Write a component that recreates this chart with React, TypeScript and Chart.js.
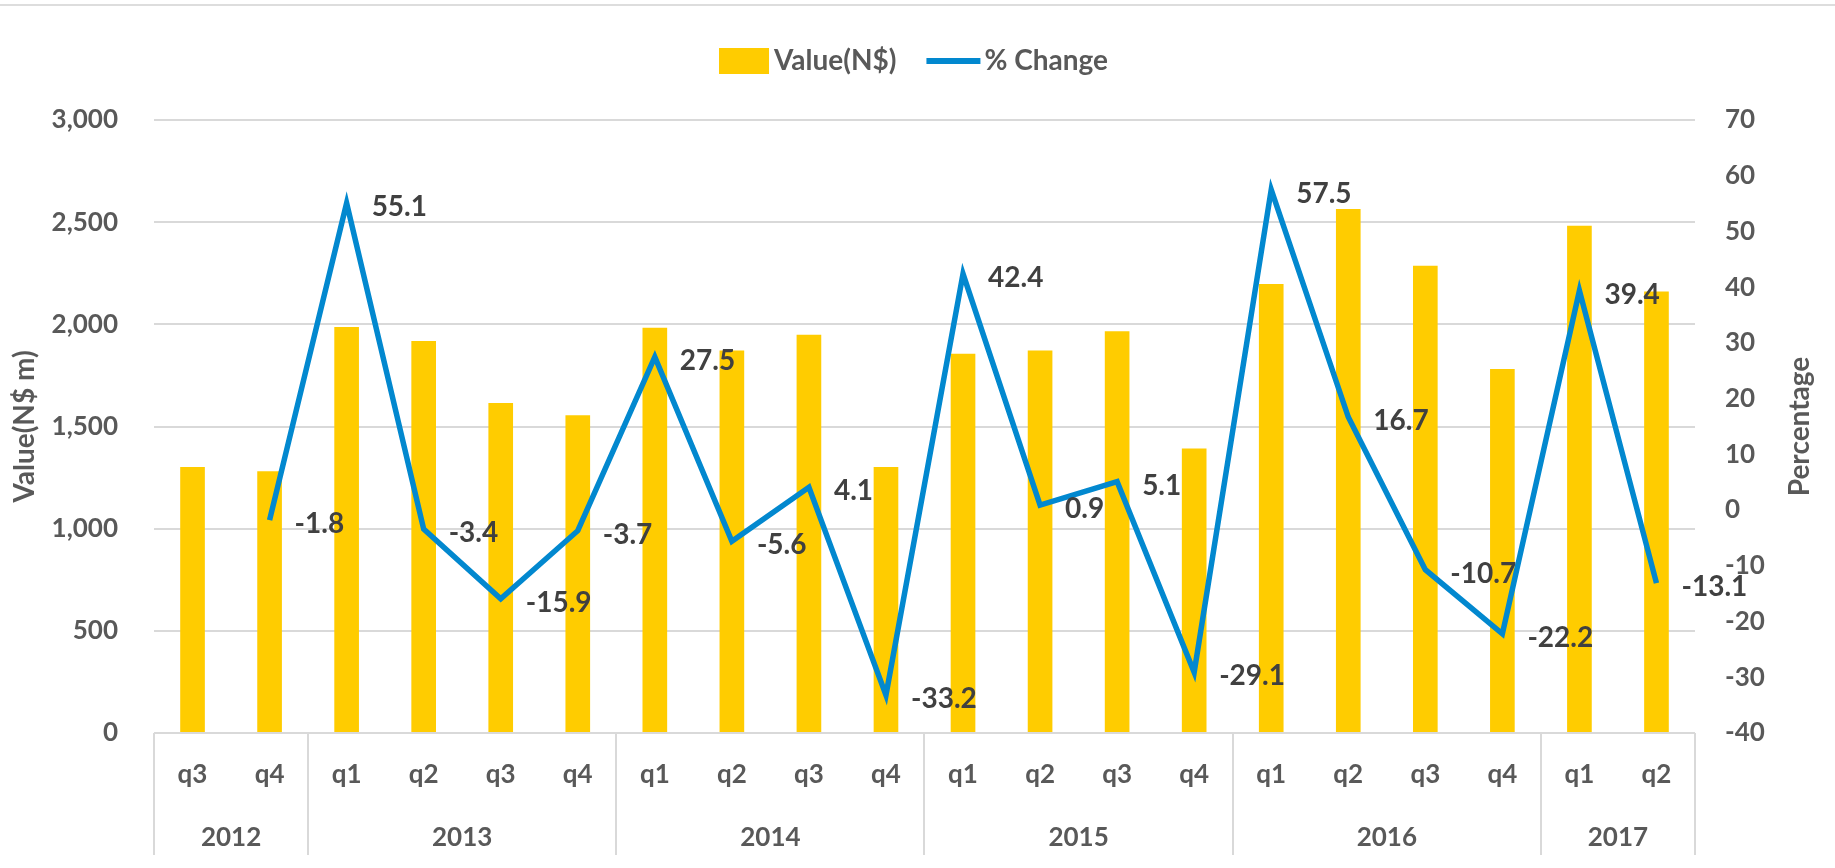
import React, { useEffect, useRef } from "react";
import { Chart, registerables } from "chart.js";

Chart.register(...registerables);

// ---------------- data ----------------
const quarters = ["q3", "q4", "q1", "q2", "q3", "q4", "q1", "q2", "q3", "q4", "q1", "q2", "q3", "q4", "q1", "q2", "q3", "q4", "q1", "q2"];
const years = ["2012", "2012", "2013", "2013", "2013", "2013", "2014", "2014", "2014", "2014", "2015", "2015", "2015", "2015", "2016", "2016", "2016", "2016", "2017", "2017"];
const valueNS = [1302, 1281, 1987, 1919, 1615, 1555, 1983, 1872, 1949, 1302, 1856, 1872, 1966, 1392, 2197, 2565, 2287, 1782, 2482, 2161];
const pctChange: (number | null)[] = [null, -1.8, 55.1, -3.4, -15.9, -3.7, 27.5, -5.6, 4.1, -33.2, 42.4, 0.9, 5.1, -29.1, 57.5, 16.7, -10.7, -22.2, 39.4, -13.1];
const seriesNames = ["Value(N$)", "% Change"];
const leftAxisTitle = "Value(N$ m)";
const rightAxisTitle = "Percentage";

const FONT = "Lato, 'Open Sans', 'DejaVu Sans', sans-serif";
const AXIS_COLOR = "#595959";
const LABEL_COLOR = "#404040";
const GRID = "#D9D9D9";
const BAR_COLOR = "#FFCC00";
const LINE_COLOR = "#0288CF";

export default function App() {
  const ref = useRef<HTMLCanvasElement>(null);

  useEffect(() => {
    const canvas = ref.current!;

    const decorPlugin = {
      id: "decor",
      afterDraw(chart: any) {
        const { ctx, scales, chartArea } = chart;
        const x = scales.x;
        ctx.save();
        // top frame line
        ctx.fillStyle = "#DDDDDD";
        ctx.fillRect(0, 4, chart.width, 2);

        // year groups
        const groups: [number, number][] = [];
        let start = 0;
        for (let i = 1; i <= years.length; i++) {
          if (i === years.length || years[i] !== years[start]) {
            groups.push([start, i - 1]);
            start = i;
          }
        }
        const half = (x.getPixelForValue(1) - x.getPixelForValue(0)) / 2;
        const edges = [x.getPixelForValue(0) - half, ...groups.map((g) => x.getPixelForValue(g[1]) + half)];
        ctx.strokeStyle = GRID;
        ctx.lineWidth = 2;
        edges.forEach((px) => {
          ctx.beginPath();
          ctx.moveTo(Math.round(px), chartArea.bottom);
          ctx.lineTo(Math.round(px), 855);
          ctx.stroke();
        });
        ctx.fillStyle = AXIS_COLOR;
        ctx.font = `bold 26px ${FONT}`;
        ctx.textAlign = "center";
        ctx.textBaseline = "middle";
        groups.forEach((g) => {
          const cx = (x.getPixelForValue(g[0]) + x.getPixelForValue(g[1])) / 2;
          ctx.fillText(years[g[0]], cx, 838);
        });

        // right axis title (reads bottom-to-top)
        ctx.save();
        ctx.font = `bold 28px ${FONT}`;
        ctx.translate(1800, (chartArea.top + chartArea.bottom) / 2);
        ctx.rotate(-Math.PI / 2);
        ctx.textAlign = "center";
        ctx.textBaseline = "middle";
        ctx.fillText(rightAxisTitle, 0, 0);
        ctx.restore();

        // legend
        ctx.font = `bold 28px ${FONT}`;
        const w1 = ctx.measureText(seriesNames[0]).width;
        const w2 = ctx.measureText(seriesNames[1]).width;
        const total = 50 + 5 + w1 + 30 + 54 + 4 + w2;
        let lx = chart.width / 2 - total / 2 - 4;
        const ly = 61;
        ctx.fillStyle = BAR_COLOR;
        ctx.fillRect(lx, ly - 13, 50, 26);
        lx += 55;
        ctx.fillStyle = AXIS_COLOR;
        ctx.textAlign = "left";
        ctx.fillText(seriesNames[0], lx, ly);
        lx += w1 + 30;
        ctx.strokeStyle = LINE_COLOR;
        ctx.lineWidth = 6;
        ctx.beginPath();
        ctx.moveTo(lx, ly);
        ctx.lineTo(lx + 54, ly);
        ctx.stroke();
        lx += 58;
        ctx.fillText(seriesNames[1], lx, ly);
        ctx.restore();
      },
      afterDatasetsDraw(chart: any) {
        const { ctx } = chart;
        const meta = chart.getDatasetMeta(0);
        ctx.save();
        ctx.font = `bold 28px ${FONT}`;
        ctx.fillStyle = LABEL_COLOR;
        ctx.textAlign = "left";
        ctx.textBaseline = "middle";
        meta.data.forEach((pt: any, i: number) => {
          const v = pctChange[i];
          if (v === null || v === undefined) return;
          ctx.fillText(v.toFixed(1), pt.x + 25, pt.y + 4);
        });
        ctx.restore();
      },
    };

    const chart = new Chart(canvas, {
      data: {
        labels: quarters,
        datasets: [
          {
            type: "line",
            label: seriesNames[1],
            data: pctChange,
            yAxisID: "y1",
            borderColor: LINE_COLOR,
            backgroundColor: LINE_COLOR,
            borderWidth: 5.5,
            pointRadius: 0,
            tension: 0,
            order: 0,
          },
          {
            type: "bar",
            label: seriesNames[0],
            data: valueNS,
            yAxisID: "y",
            backgroundColor: BAR_COLOR,
            barPercentage: 0.32,
            categoryPercentage: 1,
            order: 1,
          },
        ],
      } as any,
      options: {
        responsive: false,
        animation: false,
        layout: { padding: { top: 120, left: 0, right: 0, bottom: 0 } },
        plugins: { legend: { display: false }, tooltip: { enabled: false } },
        scales: {
          x: {
            grid: { display: false, drawTicks: false },
            border: { display: false },
            ticks: { font: { family: FONT, size: 26, weight: "bold" }, color: AXIS_COLOR, padding: 26, maxRotation: 0, autoSkip: false },
            afterFit: (s: any) => {
              s.height = 135;
            },
          },
          y: {
            position: "left",
            min: 0,
            max: 3000,
            ticks: {
              stepSize: 500,
              font: { family: FONT, size: 26, weight: "bold" },
              color: AXIS_COLOR,
              padding: 36,
              callback: (v: any) => Number(v).toLocaleString("en-US"),
            },
            grid: { color: GRID, lineWidth: 2, drawTicks: false },
            border: { display: false },
            title: { display: true, text: leftAxisTitle, color: AXIS_COLOR, font: { family: FONT, size: 28, weight: "bold" }, padding: { top: 8, bottom: 0 } },
            afterFit: (s: any) => {
              s.width = 154;
            },
          },
          y1: {
            position: "right",
            min: -40,
            max: 70,
            ticks: { stepSize: 10, font: { family: FONT, size: 26, weight: "bold" }, color: AXIS_COLOR, padding: 30 },
            grid: { display: false, drawTicks: false },
            border: { display: false },
            title: { display: false },
            afterFit: (s: any) => {
              s.width = 140;
            },
          },
        },
      } as any,
      plugins: [decorPlugin],
    });

    return () => chart.destroy();
  }, []);

  return (
    <div style={{ position: "fixed", left: 0, top: 0, width: 1835, height: 868, background: "#fff" }}>
      <canvas ref={ref} width={1835} height={868} style={{ display: "block" }} />
    </div>
  );
}
